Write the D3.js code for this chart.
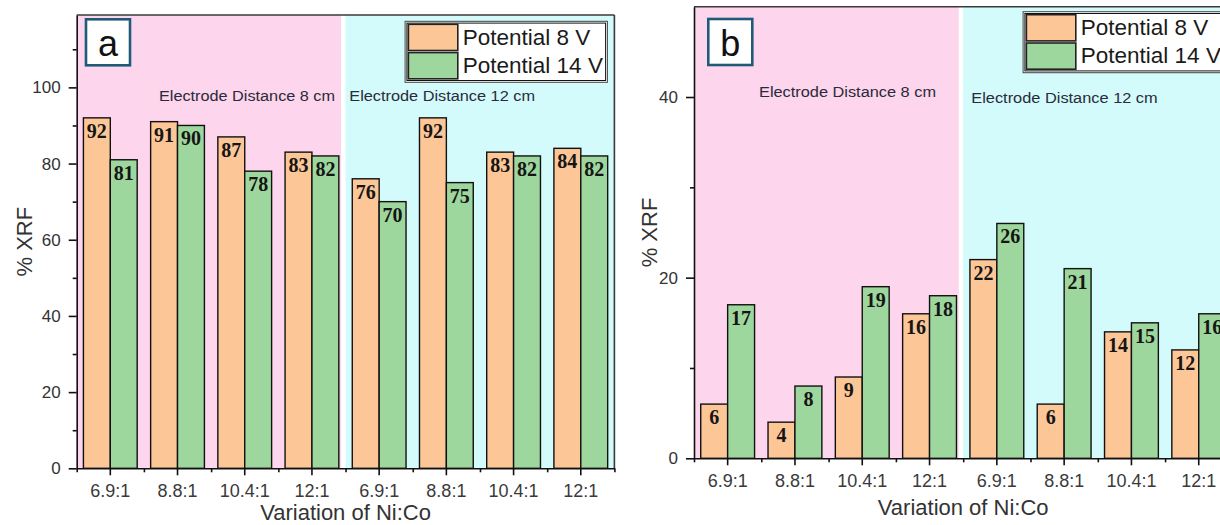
<!DOCTYPE html>
<html>
<head>
<meta charset="utf-8">
<script src="https://cdn.jsdelivr.net/npm/d3@7"></script>
<style>
  html, body { margin: 0; padding: 0; background: #fff; }
  svg { display: block; }
</style>
</head>
<body>
<svg id="chart" width="1220" height="525"></svg>
<script>
// ---------------- data ----------------
const categories = ["6.9:1", "8.8:1", "10.4:1", "12:1", "6.9:1", "8.8:1", "10.4:1", "12:1"];
const seriesNames = ["Potential 8 V", "Potential 14 V"];
const regionLabels = ["Electrode Distance 8 cm", "Electrode Distance 12 cm"];

const panelA_8V  = [92, 91, 87, 83, 76, 92, 83, 84];
const panelA_14V = [81, 90, 78, 82, 70, 75, 82, 82];
const panelB_8V  = [6, 4, 9, 16, 22, 6, 14, 12];
const panelB_14V = [17, 8, 19, 18, 26, 21, 15, 16];

const panelA_yTicks = [0, 20, 40, 60, 80, 100];
const panelA_yMinor = [10, 30, 50, 70, 90, 110];
const panelB_yTicks = [0, 20, 40];
const panelB_yMinor = [10, 30];

const yTitle = "% XRF";
const xTitle = "Variation of Ni:Co";

// ---------------- style ----------------
const colors = ["#fcc697", "#9ed79d"];
const regionColors = ["#fdd5ec", "#d3fbfb"];
const sansFont = "'Liberation Sans', Arial, sans-serif";
const serifFont = "'Liberation Serif', 'Times New Roman', serif";

const svg = d3.select("#chart");

const panels = [
  {
    letter: "a", s8: panelA_8V, s14: panelA_14V, yMax: 119,
    yTicks: panelA_yTicks, yMinor: panelA_yMinor,
    left: 76.7, right: 614.4, top: 15, bottom: 468.3,
    letterBox: { dx: 9.3, dy: 4.3 },
    legend: { top: 21.3 },
    regionText: [{ x: 159, y: 100.7, w: 176 }, { x: 349.3, y: 100.7, w: 185.7 }],
    yTitleX: 31.5, xTitleY: 520
  },
  {
    letter: "b", s8: panelB_8V, s14: panelB_14V, yMax: 50,
    yTicks: panelB_yTicks, yMinor: panelB_yMinor,
    left: 694, right: 1232.4, top: 6.7, bottom: 458.3,
    letterBox: { dx: 14.3, dy: 12.3 },
    legend: { top: 11.7 },
    regionText: [{ x: 759, y: 96.7, w: 177 }, { x: 971.3, y: 103.3, w: 186.4 }],
    yTitleX: 657, xTitleY: 515
  }
];

panels.forEach(p => {
  const g = svg.append("g");
  const x = d3.scaleBand().domain(d3.range(categories.length)).range([p.left, p.right]).padding(0);
  const bw = x.bandwidth();
  const xs = d3.scaleBand().domain([0, 1]).range([0.1 * bw, 0.9 * bw]).padding(0);
  const y = d3.scaleLinear().domain([0, p.yMax]).range([p.bottom, p.top]);
  const xMinor = d3.scaleLinear().domain([0, categories.length]).range([p.left, p.right]);
  const mid = xMinor(categories.length / 2);

  // region backgrounds
  g.append("rect").attr("x", p.left).attr("y", p.top)
    .attr("width", mid - 4.5 - p.left).attr("height", p.bottom - p.top)
    .attr("fill", regionColors[0]);
  g.append("rect").attr("x", mid).attr("y", p.top)
    .attr("width", p.right - mid).attr("height", p.bottom - p.top)
    .attr("fill", regionColors[1]);

  // region labels
  regionLabels.forEach((t, i) => {
    const r = p.regionText[i];
    g.append("text").attr("x", r.x).attr("y", r.y)
      .attr("textLength", r.w).attr("lengthAdjust", "spacingAndGlyphs")
      .attr("font-family", sansFont).attr("font-size", 14)
      .attr("fill", "#2a2a3a").text(t);
  });

  // bars
  const rows = categories.map((c, i) => ({ i, vals: [p.s8[i], p.s14[i]] }));
  const groups = g.selectAll(".grp").data(rows).join("g")
    .attr("transform", d => `translate(${x(d.i)},0)`);
  groups.selectAll("rect").data(d => d.vals.map((v, k) => ({ v, k }))).join("rect")
    .attr("x", d => xs(d.k)).attr("width", xs.bandwidth())
    .attr("y", d => y(d.v)).attr("height", d => y(0) - y(d.v))
    .attr("fill", d => colors[d.k]).attr("stroke", "#111").attr("stroke-width", 1.4);
  groups.selectAll("text").data(d => d.vals.map((v, k) => ({ v, k }))).join("text")
    .attr("x", d => xs(d.k) + xs.bandwidth() / 2)
    .attr("y", d => y(d.v) + 20)
    .attr("text-anchor", "middle")
    .attr("font-family", serifFont).attr("font-weight", "bold").attr("font-size", 20)
    .attr("fill", "#151515").text(d => d.v);

  // frame (top and right)
  g.append("line").attr("x1", p.left).attr("x2", p.right).attr("y1", p.top).attr("y2", p.top)
    .attr("stroke", "#3a3a3a").attr("stroke-width", 1.6);
  g.append("line").attr("x1", p.right).attr("x2", p.right).attr("y1", p.top).attr("y2", p.bottom)
    .attr("stroke", "#3a3a3a").attr("stroke-width", 1.6);

  // y axis
  const yAxis = g.append("g").attr("transform", `translate(${p.left},0)`)
    .call(d3.axisLeft(y).tickValues(p.yTicks).tickSize(8).tickPadding(8).tickSizeOuter(0));
  g.append("g").attr("transform", `translate(${p.left},0)`)
    .call(d3.axisLeft(y).tickValues(p.yMinor).tickSize(4).tickFormat("").tickSizeOuter(0))
    .call(s => s.select(".domain").remove());
  yAxis.selectAll("text").attr("font-family", sansFont).attr("font-size", 17).attr("fill", "#333");

  // x axis
  const xAxis = g.append("g").attr("transform", `translate(0,${p.bottom})`)
    .call(d3.axisBottom(x).tickFormat(i => categories[i]).tickSize(7).tickPadding(9).tickSizeOuter(0));
  g.append("g").attr("transform", `translate(0,${p.bottom})`)
    .call(d3.axisBottom(xMinor).tickValues(d3.range(0, categories.length + 1)).tickSize(4).tickFormat("").tickSizeOuter(0))
    .call(s => s.select(".domain").remove());
  xAxis.selectAll("text").attr("font-family", sansFont).attr("font-size", 18).attr("fill", "#3a3a3a");
  g.selectAll(".domain, .tick line").attr("stroke", "#111").attr("stroke-width", 1.6);

  // axis titles
  g.append("text")
    .attr("transform", `translate(${p.yTitleX},${(p.top + p.bottom) / 2}) rotate(-90)`)
    .attr("text-anchor", "middle").attr("font-family", sansFont).attr("font-size", 22)
    .attr("fill", "#333").text(yTitle);
  g.append("text").attr("x", mid).attr("y", p.xTitleY)
    .attr("text-anchor", "middle").attr("font-family", sansFont).attr("font-size", 22)
    .attr("fill", "#333").text(xTitle);

  // panel letter
  const lb = g.append("g").attr("transform", `translate(${p.left + p.letterBox.dx},${p.top + p.letterBox.dy})`);
  lb.append("rect").attr("x", 0).attr("y", 0).attr("width", 44).attr("height", 46)
    .attr("fill", "#fff").attr("stroke", "#1f5b78").attr("stroke-width", 2.6);
  lb.append("text").attr("x", 22).attr("y", 37).attr("text-anchor", "middle")
    .attr("font-family", sansFont).attr("font-size", 36).attr("fill", "#111").text(p.letter);

  // legend
  const lw = 202.3, lh = 61;
  const lx = p.right - 7 - lw;
  const leg = g.append("g").attr("transform", `translate(${lx},${p.legend.top})`);
  leg.append("rect").attr("width", lw).attr("height", lh).attr("fill", "#fff")
    .attr("stroke", "#444").attr("stroke-width", 1);
  leg.append("rect").attr("x", 1.8).attr("y", 1.8).attr("width", lw - 3.6).attr("height", lh - 3.6)
    .attr("fill", "none").attr("stroke", "#111").attr("stroke-width", 1);
  seriesNames.forEach((name, k) => {
    leg.append("rect").attr("x", 3.3).attr("y", 3 + k * 28.3).attr("width", 49.4).attr("height", 26.2)
      .attr("fill", colors[k]).attr("stroke", "#222").attr("stroke-width", 1.6);
    leg.append("text").attr("x", 57.7).attr("y", 23.3 + k * 28.5)
      .attr("font-family", sansFont).attr("font-size", 22.5).attr("fill", "#1a1a1a").text(name);
  });
});
</script>
</body>
</html>
